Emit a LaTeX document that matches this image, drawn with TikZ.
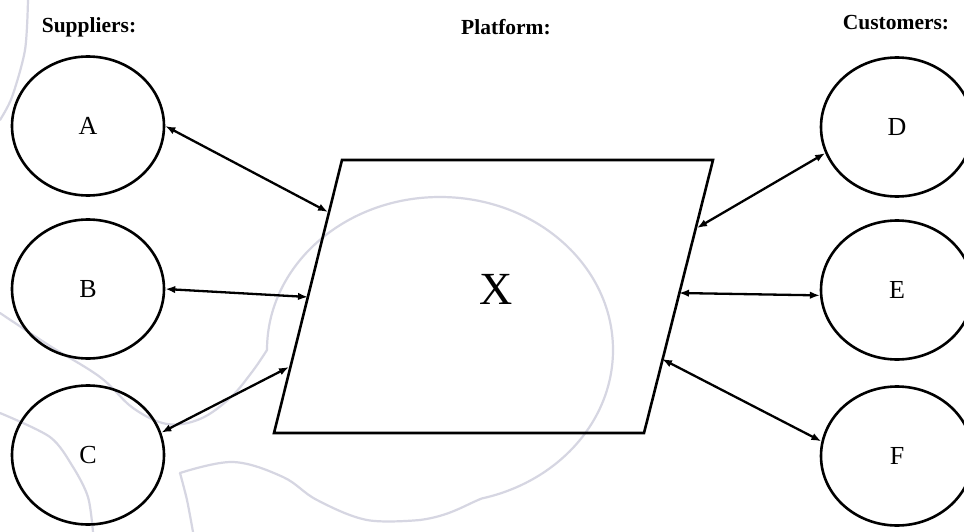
\documentclass[tikz,border=0pt]{standalone}
\usepackage{fontspec}
\setmainfont{Liberation Serif}
\usetikzlibrary{arrows.meta,shapes.geometric}
\definecolor{wm}{RGB}{214,214,226}
\tikzset{
  party/.style={ellipse, draw, line width=2.6pt, minimum width=152pt, minimum height=139pt, inner sep=0pt, font=\fontsize{26}{26}\selectfont},
  head/.style={font=\fontsize{21.5}{21.5}\selectfont\bfseries, inner sep=0pt},
  link/.style={line width=2.3pt, {Latex[length=10pt,width=7.5pt]}-{Latex[length=10pt,width=7.5pt]}},
  wmline/.style={wm, line width=2.2pt, line cap=round, line join=round}
}
\begin{document}
\begin{tikzpicture}[x=1pt,y=-1pt]
\useasboundingbox[fill=white] (0,0) rectangle (964,532);
% watermark
\draw[wmline] plot[smooth, tension=0.6] coordinates {(0,313) (50,346) (100,377) (133,408) (167,424) (200,419) (230,398) (252,372) (267,350)}
  arc[start angle=180, end angle=436, x radius=173, y radius=153]
  .. controls (465,505) and (450,516) .. (420,520)
  plot[smooth, tension=0.6] coordinates {(420,520) (367,520) (317,500) (283,477) (233,462) (180,473)};
\draw[wmline] plot[smooth] coordinates {(180,473) (187,500) (193,532)};
\draw[wmline] plot[smooth] coordinates {(0,413) (50,437) (73,467) (88,497) (93,532)};
\draw[wmline] plot[smooth] coordinates {(28,0) (25,50) (12,97) (0,120)};
% headers
\node[head] (hs) at (89,27) {Suppliers:};
\node[head] (hp) at (506,27) {Platform:};
\node[head] (hc) at (896,23) {Customers:};
% parties
\node[party] (A) at (88,126) {A};
\node[party] (B) at (88,289) {B};
\node[party] (C) at (88,455) {C};
\node[party] (D) at (897,127) {D};
\node[party] (E) at (897,290) {E};
\node[party] (F) at (897,456) {F};
% platform
\coordinate (tl) at (342,160);
\coordinate (tr) at (713,160);
\coordinate (br) at (644,433);
\coordinate (bl) at (274,433);
\draw[line width=2.6pt] (tl) -- (tr) -- (br) -- (bl) -- cycle;
\node[font=\fontsize{46}{46}\selectfont, inner sep=0pt] (X) at (496,289) {X};
% attachment points on the platform
\coordinate (pA) at (328,212);
\coordinate (pB) at (308,297);
\coordinate (pC) at (289,367);
\coordinate (pD) at (697,228);
\coordinate (pE) at (679,293);
\coordinate (pF) at (662,359);
% connectors
\draw[link] (A.east) -- (pA);
\draw[link] (B.east) -- (pB);
\draw[link] (C.17) -- (pC);
\draw[link] (D.200) -- (pD);
\draw[link] (E.184) -- (pE);
\draw[link] (F.169) -- (pF);
\end{tikzpicture}
\end{document}
